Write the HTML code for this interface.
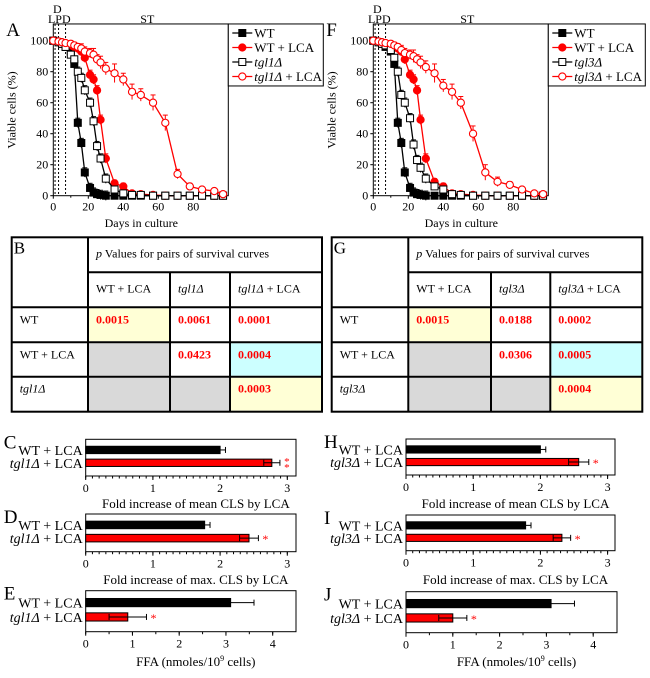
<!DOCTYPE html>
<html><head><meta charset="utf-8">
<style>
html,body{margin:0;padding:0;background:#fff;}
svg, svg text, svg tspan{font-family:"Liberation Serif","Times New Roman",serif;}
</style></head>
<body>
<svg id="fig" width="650" height="673" viewBox="0 0 650 673" xmlns="http://www.w3.org/2000/svg" font-family="Liberation Serif, serif"></svg>
<script>
// ---- Survival data (panel A / F) ----
const days = [0,3,5,7,10,12,14,16,18,21,23,25,27,30,35,40,45,50,57,64,71,78,85,92,97];
const aWT      = [100,99,98,96,93,85,47,34,15,5,2,1,0.5,0,0,0,0,0,0,0,0,0,0,0,0];
const aWTLCA   = [100,99.5,99,98,97,96,95,93,89,78,75,68,49,24,8,6,1.5,1,0.5,0,0,0,0,0,0];
const aMut     = [100,99,98,96,91,88,80,76,68,60,48,32,24,11,4,1.5,0.5,0.5,0,0,0,0,0,0,0];
const aMutLCA  = [100,99.5,99,98.5,98,97,96,95,93,92,91,88,86,82,79,75,67,65,60,47,14,6,4,3,1];
const fWT      = [100,99,98,96,93,85,47,34,15,5,2,1,0.5,0,0,0,0,0,0,0,0,0,0,0,0];
const fWTLCA   = [100,99.5,99,98,97,96,95,93,88,78,75,68,49,24,9,6,1.5,1,0.5,0,0,0,0,0,0];
const fMut     = [100,99,98,97,94,89,80,65,60,50,33,23,18,11,6,4,1,0.5,0,0,0,0,0,0,0];
const fMutLCA  = [100,99.5,99,98.5,98,97,96,94,92,91,90,88,86,83,79,71,67,60,40,15,9,7,4,1.5,1];
const errSmall = [0,1,1,1,2,2,3,3,3,3,3,3,3,3,2,2,1,1,0,0,0,0,0,0,0];
const errBig   = [0,1,1,1,2,2,2,3,3,3,4,3,4,4,6,4,5,4,5,5,3,2,1,1,1];
const xTicks = [0,20,40,60,80];
const yTicks = [0,20,40,60,80,100];

// ---- Bar data ----
const barCats = ["WT + LCA", "+ LCA"];
const cVals = [2.0, 2.77]; const cErr = [0.08, 0.12];
const dVals = [1.77, 2.43]; const dErr = [0.08, 0.14];
const eVals = [3.1, 0.9];  const eErr = [0.5, 0.4];
const hVals = [2.0, 2.57]; const hErr = [0.08, 0.15];
const iVals = [1.78, 2.32]; const iErr = [0.08, 0.13];
const jVals = [3.1, 1.0];  const jErr = [0.5, 0.3];
const foldTicks = [0,1,2,3];
const ffaTicks = [0,1,2,3,4];

const NS = "http://www.w3.org/2000/svg";
const FF = "Liberation Serif, serif";
const fig = document.getElementById("fig");
function mk(tag, attrs, parent){
  const e = document.createElementNS(NS, tag);
  for (const k in attrs) e.setAttribute(k, attrs[k]);
  if (tag === "text") e.setAttribute("font-family", FF);
  (parent||fig).appendChild(e);
  return e;
}
function txt(s, x, y, size, anchor, parent, extra){
  const t = mk("text", Object.assign({x:x, y:y, "font-size":size, "text-anchor":anchor||"start", fill:"#000"}, extra||{}), parent);
  t.textContent = s;
  return t;
}

function survival(ox, letter, mut, sWT, sWTLCA, sMut, sMutLCA){
  const g = mk("g", {});
  
  
  const x0 = ox, y0 = 195.7;
  const xs = d => x0 + d*1.75;
  const ys = v => y0 - v*1.55;
  const xr = xs(100), yt = ys(110.8);
  const L = txt(letter, ox-47, 36, 19, "start", g);
  
  
  mk("rect", {x:x0, y:yt, width:xr-x0, height:y0-yt, fill:"none", stroke:"#000", "stroke-width":1}, g);
  [1,3,7].forEach(d => mk("line", {x1:xs(d), x2:xs(d), y1:yt, y2:y0, stroke:"#000", "stroke-width":1, "stroke-dasharray":"2,2"}, g));
  txt("D", x0+4, 13, 12, "middle", g);
  txt("LPD", x0+6, 23, 12, "middle", g);
  txt("ST", x0+94, 23, 12, "middle", g);
  xTicks.forEach(t => {
    mk("line", {x1:xs(t), x2:xs(t), y1:y0, y2:y0+3, stroke:"#000"}, g);
    txt(String(t), xs(t), y0+15, 12, "middle", g);
  });
  for (let t=10;t<100;t+=20) mk("line", {x1:xs(t), x2:xs(t), y1:y0, y2:y0+2, stroke:"#000"}, g);
  yTicks.forEach(t => {
    mk("line", {x1:x0-3, x2:x0, y1:ys(t), y2:ys(t), stroke:"#000"}, g);
    txt(String(t), x0-5, ys(t)+4, 12, "end", g);
  });
  const xt = txt("Days in culture", x0+88, 227, 12, "middle", g);
  
  
  const yt2 = txt("Viable cells (%)", 0, 0, 12, "middle", g, {transform:"translate("+(x0-38)+",110) rotate(-90)"});
  
  

  const series = [
    {v:sWT, e:errSmall, c:"#000", fill:"#000", m:"sq", name:"wt"},
    {v:sWTLCA, e:errSmall, c:"#f00", fill:"#f00", m:"ci", name:"wt-lca"},
    {v:sMut, e:errSmall, c:"#000", fill:"#fff", m:"sq", name:"mutant"},
    {v:sMutLCA, e:errBig, c:"#f00", fill:"#fff", m:"ci", name:"mutant-lca"}
  ];
  series.forEach(s => {
    const sg = mk("g", {}, g);
    
    
    let d = "";
    days.forEach((dd,i) => { d += (i?"L":"M") + xs(dd) + " " + ys(s.v[i]); });
    mk("path", {d:d, fill:"none", stroke:s.c, "stroke-width":1.3}, sg);
    days.forEach((dd,i) => {
      const e = s.e[i];
      if (e>0){
        mk("line", {x1:xs(dd), x2:xs(dd), y1:ys(s.v[i]-e), y2:ys(s.v[i]+e), stroke:s.c, "stroke-width":1}, sg);
        mk("line", {x1:xs(dd)-2.5, x2:xs(dd)+2.5, y1:ys(s.v[i]+e), y2:ys(s.v[i]+e), stroke:s.c, "stroke-width":1}, sg);
      }
    });
    days.forEach((dd,i) => {
      let p;
      if (s.m==="sq") p = mk("rect", {x:xs(dd)-3.5, y:ys(s.v[i])-3.5, width:7, height:7, fill:s.fill, stroke:s.c, "stroke-width":1}, sg);
      else p = mk("circle", {cx:xs(dd), cy:ys(s.v[i]), r:3.6, fill:s.fill, stroke:s.c, "stroke-width":1.1}, sg);
      
      
    });
  });
  // legend
  const lg = mk("g", {}, g);
  
  
  const lw = (letter==="A") ? 95 : 97;
  mk("rect", {x:xr, y:yt, width:lw, height:62, fill:"#fff", stroke:"#000"}, lg);
  const labels = ["WT", "WT + LCA", mut, mut + " + LCA"];
  series.forEach((s,i) => {
    const y = 33 + i*14.5;
    const eg = mk("g", {}, lg);
    
    
    mk("line", {x1:xr+4, x2:xr+24, y1:y, y2:y, stroke:s.c, "stroke-width":1.3}, eg);
    if (s.m==="sq") mk("rect", {x:xr+10.5, y:y-3.5, width:7, height:7, fill:s.fill, stroke:s.c}, eg);
    else mk("circle", {cx:xr+14, cy:y, r:3.6, fill:s.fill, stroke:s.c, "stroke-width":1.1}, eg);
    const t = mk("text", {x:xr+26, y:y+4.5, "font-size":13, fill:"#000"}, eg);
    if (i>=2){
      const a = document.createElementNS(NS,"tspan"); a.setAttribute("font-style","italic"); a.textContent = mut; t.appendChild(a);
      if (i===3){ const b = document.createElementNS(NS,"tspan"); b.textContent = " + LCA"; t.appendChild(b); }
    } else t.textContent = labels[i];
  });
}

function table(letter, mut, cols, rows, vals, colors){
  const g = mk("g", {});
  
  
  const ys = [237.3, 272.3, 307.3, 342.3, 376.7, 411.7];
  const xl = cols[0], xr = cols[4];
  for (let r=0;r<3;r++) for (let c=0;c<3;c++){
    const col = colors[r][c];
    if (col) mk("rect", {x:cols[c+1]+1, y:ys[r+2]+1, width:cols[c+2]-cols[c+1]-2, height:ys[r+3]-ys[r+2]-2, fill:col}, g);
  }
  mk("rect", {x:xl, y:ys[0], width:xr-xl, height:ys[5]-ys[0], fill:"none", stroke:"#000", "stroke-width":2}, g);
  mk("line", {x1:cols[1], x2:cols[1], y1:ys[0], y2:ys[5], stroke:"#000", "stroke-width":2}, g);
  mk("line", {x1:cols[1], x2:xr, y1:ys[1], y2:ys[1], stroke:"#000", "stroke-width":2}, g);
  [2,3,4].forEach(i => mk("line", {x1:xl, x2:xr, y1:ys[i], y2:ys[i], stroke:"#000", "stroke-width":2}, g));
  [2,3].forEach(i => mk("line", {x1:cols[i], x2:cols[i], y1:ys[1], y2:ys[5], stroke:"#000", "stroke-width":2}, g));
  txt(letter, xl+2, ys[0]+16, 17, "start", g);
  const h = mk("text", {x:cols[1]+8, y:ys[0]+20, "font-size":12, fill:"#000"}, g);
  h.innerHTML = '<tspan font-style="italic">p</tspan> Values for pairs of survival curves';
  const hdr = ["WT + LCA", "<tspan font-style='italic'>"+mut+"</tspan>", "<tspan font-style='italic'>"+mut+"</tspan> + LCA"];
  hdr.forEach((s,i) => { const t = mk("text", {x:cols[i+1]+8, y:ys[1]+20, "font-size":12, fill:"#000"}, g); t.innerHTML = s; });
  const rl = ["WT", "WT + LCA", "<tspan font-style='italic'>"+mut+"</tspan>"];
  rl.forEach((s,i) => { const t = mk("text", {x:xl+8, y:ys[i+2]+16, "font-size":12, fill:"#000"}, g); t.innerHTML = s; });
  for (let r=0;r<3;r++) for (let c=0;c<3;c++){
    if (vals[r][c]){
      const t = txt(vals[r][c], cols[c+1]+8, ys[r+2]+16, 12, "start", g, {fill:"#f00", "font-weight":"bold"});
      
      
    }
  }
}

function barChart(letter, mut, x0, top, bot, xr, scale, ticks, minor, vals, errs, stars, title, titleY){
  const g = mk("g", {});
  
  
  const xs = v => x0 + v*scale;
  txt(letter, x0-82, top+9, 19, "start", g);
  mk("rect", {x:x0, y:top, width:xr-x0, height:bot-top, fill:"none", stroke:"#000", "stroke-width":1}, g);
  const bh = (bot-top)*0.2;
  const by = [top+(bot-top)*0.19, top+(bot-top)*0.54];
  vals.forEach((v,i) => {
    const b = mk("rect", {x:x0, y:by[i], width:xs(v)-x0, height:bh, fill:i?"#f00":"#000", stroke:"#000", "stroke-width":1}, g);
    
    
    const cy = by[i]+bh/2, e = errs[i];
    mk("line", {x1:xs(v-e), x2:xs(v+e), y1:cy, y2:cy, stroke:"#000"}, g);
    mk("line", {x1:xs(v+e), x2:xs(v+e), y1:cy-3, y2:cy+3, stroke:"#000"}, g);
    if (i) mk("line", {x1:xs(v-e), x2:xs(v-e), y1:cy-3, y2:cy+3, stroke:"#000"}, g);
    const lab = mk("text", {x:x0-3, y:cy+5, "font-size":14, "text-anchor":"end", fill:"#000"}, g);
    lab.innerHTML = i ? "<tspan font-style='italic'>"+mut+"</tspan> + LCA" : "WT + LCA";
  });
  const sv = vals[1]+errs[1];
  const cy1 = by[1]+bh/2;
  if (stars === "**") {
    txt("*", xs(sv)+7, cy1+2, 11, "middle", g, {fill:"#f00"});
    txt("*", xs(sv)+7, cy1+8, 11, "middle", g, {fill:"#f00"});
  } else txt(stars, xs(sv)+7, cy1+5, 12, "middle", g, {fill:"#f00"});
  for (let v=0; v<=ticks[ticks.length-1]+1e-9; v+=minor) mk("line", {x1:xs(v), x2:xs(v), y1:bot, y2:bot+2.5, stroke:"#000"}, g);
  ticks.forEach(t => {
    mk("line", {x1:xs(t), x2:xs(t), y1:bot, y2:bot+4, stroke:"#000"}, g);
    txt(String(t), xs(t), bot+16, 12, "middle", g);
  });
  const tt = mk("text", {x:(x0+xr)/2+5, y:titleY, "font-size":13, "text-anchor":"middle", fill:"#000"}, g);
  tt.innerHTML = title;
  
  
}

survival(53.3, "A", "tgl1Δ", aWT, aWTLCA, aMut, aMutLCA);
survival(373.3, "F", "tgl3Δ", fWT, fWTLCA, fMut, fMutLCA);
const fills = [["#ffffd6",null,null],["#d9d9d9",null,"#ccffff"],["#d9d9d9","#d9d9d9","#ffffd6"]];
table("B", "tgl1Δ", [11.7,88,170,230,322], null, [["0.0015","0.0061","0.0001"],[null,"0.0423","0.0004"],[null,null,"0.0003"]], fills);
table("G", "tgl3Δ", [331.7,408.3,491,550.3,642.3], null, [["0.0015","0.0188","0.0002"],[null,"0.0306","0.0005"],[null,null,"0.0004"]], fills);
barChart("C","tgl1Δ",85.7,439.3,476,296,67.2,foldTicks,0.1,cVals,cErr,"**","Fold increase of mean CLS by LCA",508);
barChart("D","tgl1Δ",85.7,514,551.7,296,67.2,foldTicks,0.1,dVals,dErr,"*","Fold increase of max. CLS by LCA",584);
barChart("E","tgl1Δ",85.7,590.7,631.7,296,46.75,ffaTicks,0.5,eVals,eErr,"*","FFA (nmoles/10<tspan font-size='8' dy='-5'>9</tspan><tspan dy='5'> cells)</tspan>",666);
barChart("H","tgl3Δ",406,439,475,615,67.2,foldTicks,0.1,hVals,hErr,"*","Fold increase of mean CLS by LCA",508);
barChart("I","tgl3Δ",406,515,550.7,615,67.2,foldTicks,0.1,iVals,iErr,"*","Fold increase of max. CLS by LCA",584);
barChart("J","tgl3Δ",406,591.7,632.7,617,46.8,ffaTicks,0.5,jVals,jErr,"*","FFA (nmoles/10<tspan font-size='8' dy='-5'>9</tspan><tspan dy='5'> cells)</tspan>",666);
</script>
</body></html>
